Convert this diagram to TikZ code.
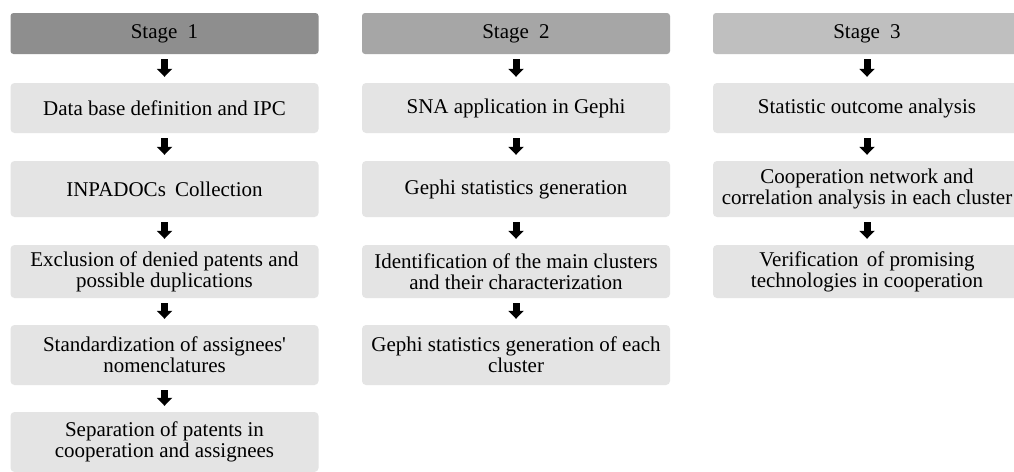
\documentclass[tikz,border=0pt]{standalone}
\usepackage{fontspec}
\setmainfont{Liberation Serif}
\usetikzlibrary{arrows.meta}
\definecolor{hdA}{HTML}{8E8E8E}
\definecolor{hdB}{HTML}{A6A6A6}
\definecolor{hdC}{HTML}{BFBFBF}
\definecolor{boxc}{HTML}{E4E4E4}
\tikzset{
  hdr/.style={fill=#1, rounded corners=3pt, minimum width=308pt, minimum height=41pt, inner sep=0pt, font=\fontsize{21}{21}\selectfont, align=center},
  stepbox/.style={fill=boxc, rounded corners=4pt, minimum width=308pt, minimum height=#1, inner sep=0pt, font=\fontsize{21}{21}\selectfont, align=center},
  blk/.style={line width=7pt, -{Triangle[width=15pt,length=8pt]}, shorten <=5pt, shorten >=6pt}
}
\begin{document}
\begin{tikzpicture}[x=1pt,y=-1pt]
\useasboundingbox (0,0) rectangle (1014,471);
\fill[white] (0,0) rectangle (1014,471);
% column 1
\node[hdr=hdA] (h1) at (164.5,33.5) {Stage \hspace{5pt}1};
\node[stepbox=50pt] (a1) at (164.5,108) {Data base definition and IPC};
\node[stepbox=56pt] (a2) at (164.5,189) {INPADOCs \hspace{4pt}Collection};
\node[stepbox=53pt] (a3) at (164.5,271.5) {Exclusion of denied patents and\\possible duplications};
\node[stepbox=60pt] (a4) at (164.5,355) {Standardization of assignees\textquotesingle\\nomenclatures};
\node[stepbox=60pt] (a5) at (164.5,442) {Separation of patents in\\cooperation and assignees};
% column 2
\node[hdr=hdB] (h2) at (516,33.5) {Stage \hspace{5pt}2};
\node[stepbox=50pt] (b1) at (516,108) {SNA application in Gephi};
\node[stepbox=56pt] (b2) at (516,189) {Gephi statistics generation};
\node[stepbox=53pt] (b3) at (516,271.5) {Identification of the main clusters\\and their characterization};
\node[stepbox=60pt] (b4) at (516,355) {Gephi statistics generation of each\\cluster};
% column 3
\node[hdr=hdC] (h3) at (867,33.5) {Stage \hspace{5pt}3};
\node[stepbox=50pt] (c1) at (867,108) {Statistic outcome analysis};
\node[stepbox=56pt] (c2) at (867,189) {Cooperation network and\\correlation analysis in each cluster};
\node[stepbox=53pt] (c3) at (867,271.5) {Verification \hspace{3pt}of promising\\technologies in cooperation};
% arrows
\draw[blk] (h1) -- (a1);
\draw[blk] (a1) -- (a2);
\draw[blk] (a2) -- (a3);
\draw[blk] (a3) -- (a4);
\draw[blk] (a4) -- (a5);
\draw[blk] (h2) -- (b1);
\draw[blk] (b1) -- (b2);
\draw[blk] (b2) -- (b3);
\draw[blk] (b3) -- (b4);
\draw[blk] (h3) -- (c1);
\draw[blk] (c1) -- (c2);
\draw[blk] (c2) -- (c3);
\end{tikzpicture}
\end{document}
